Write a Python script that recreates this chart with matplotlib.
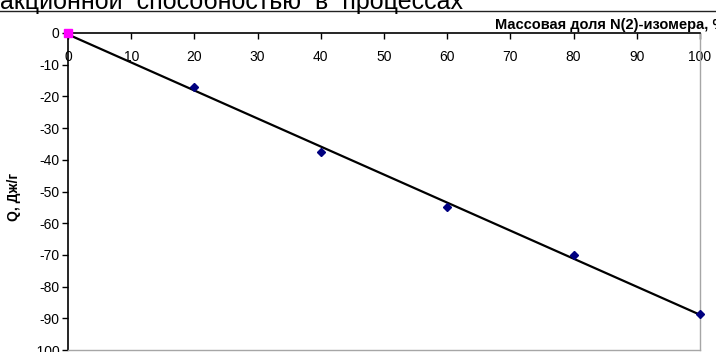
import numpy as np
import matplotlib
matplotlib.use("Agg")
import matplotlib.pyplot as plt
from matplotlib.lines import Line2D

plt.rcParams['font.family'] = ['Liberation Sans', 'DejaVu Sans']

# Mass fraction of the N(2)-isomer, % and heat effect Q, J/g
fraction = [0, 20, 40, 60, 80, 100]
heat = [0, -17, -37.5, -55, -70, -88.5]
x_ticks = [0, 10, 20, 30, 40, 50, 60, 70, 80, 90, 100]
y_ticks = [0, -10, -20, -30, -40, -50, -60, -70, -80, -90, -100]

W, H = 716, 352
fig = plt.figure(figsize=(W / 100, H / 100), dpi=100)
ax = fig.add_axes([68 / W, 1 - 350 / H, (700 - 68) / W, (350 - 33) / H])

ax.set_xlim(0, 100)
ax.set_ylim(-100, 0)

# linear trend line through the data
coef = np.polyfit(fraction, heat, 1)
xs = np.array([fraction[0], fraction[-1]])
ax.plot(xs, np.polyval(coef, xs), color='black', lw=1.6, zorder=3)

ax.plot(fraction[1:], heat[1:], linestyle='none', marker='D', markersize=4.5,
        color='#000080', zorder=4, clip_on=False)
ax.plot(fraction[:1], heat[:1], linestyle='none', marker='s', markersize=5.5,
        color='#ff00ff', zorder=5, clip_on=False)

# x axis crosses at Q = 0 (top of the plot), labels below it
ax.spines['bottom'].set_position(('data', 0))
ax.spines['bottom'].set_linewidth(1.2)
ax.spines['top'].set_position(('axes', 0))
ax.spines['top'].set_color('#a6a6a6')
ax.spines['top'].set_linewidth(1.0)
ax.spines['right'].set_color('#a6a6a6')
ax.spines['right'].set_linewidth(1.0)
ax.spines['left'].set_linewidth(1.2)

ax.set_xticks(x_ticks)
ax.set_yticks(y_ticks)
ax.set_xticklabels([str(v) for v in x_ticks])
ax.set_yticklabels([str(v) for v in y_ticks])
ax.tick_params(axis='x', direction='out', length=4, width=1.0, pad=8,
               labelsize=10, top=False)
ax.tick_params(axis='y', direction='out', length=4, width=1.0, pad=2,
               labelsize=10, right=False)

fig.text(14 / W, 1 - 197 / H, 'Q, Дж/г', rotation=90, ha='center', va='center',
         fontsize=10, fontweight='bold')
fig.text(495 / W, 1 - 25 / H, 'Массовая доля N(2)-изомера, %', ha='left',
         va='center', fontsize=10.5, fontweight='bold')

# heading text running above the chart
fig.text(0 / W, 1 - 9 / H, 'акционной  способностью  в  процессах', ha='left',
         va='baseline', fontsize=18)
fig.add_artist(Line2D([0, 1], [1 - 11 / H, 1 - 11 / H], color='#222222', lw=1.0))

fig.savefig('out.png', dpi=100)
